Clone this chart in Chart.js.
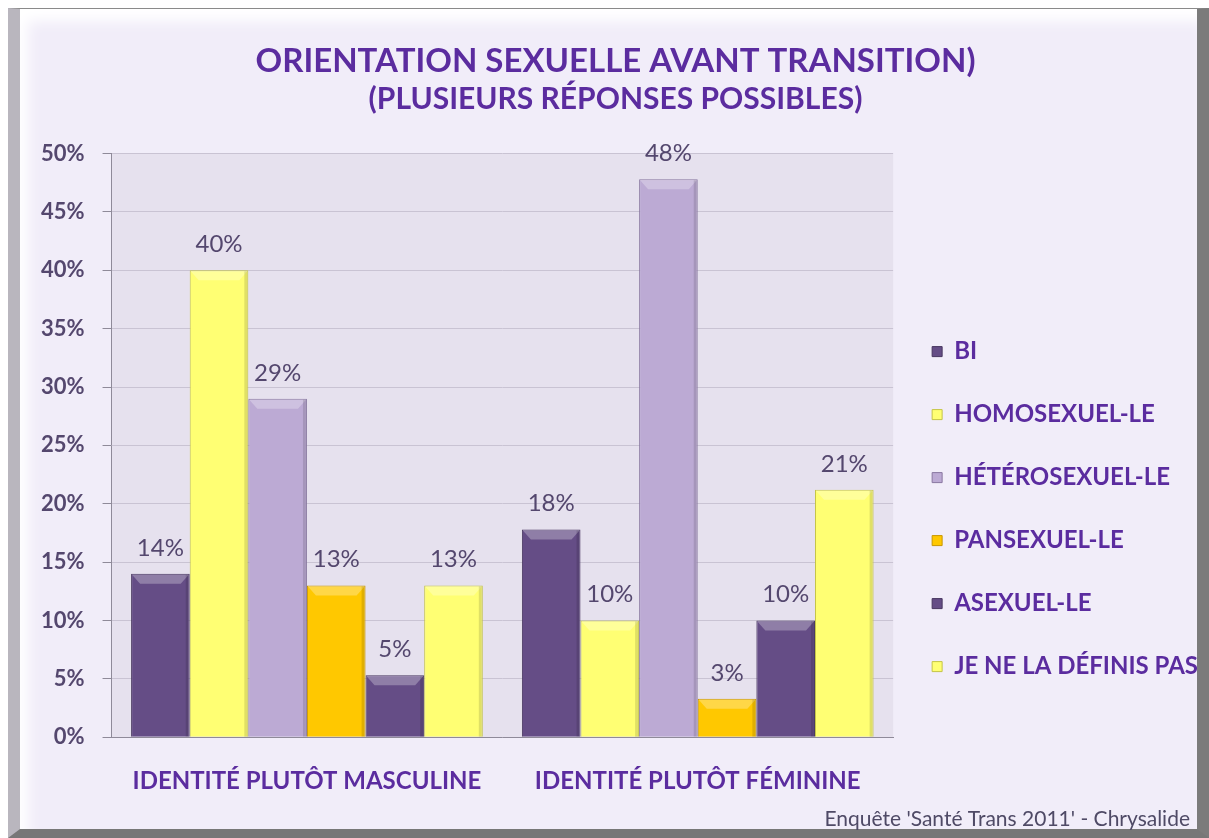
<!DOCTYPE html>
<html>
<head>
<meta charset="utf-8">
<script src="https://cdn.jsdelivr.net/npm/chart.js@4.4.0/dist/chart.umd.min.js"></script>
<style>
  html, body { margin: 0; padding: 0; background: #ffffff; }
  #frame {
    position: absolute; left: 8px; top: 8px; width: 1201px; height: 830px;
    box-sizing: border-box; background: #f1edf9;
    border-top: 1px solid #8a8a8a; border-left: 12px solid #b9b6be;
    border-right: 12px solid #7b7b7b; border-bottom: 9px solid #777777;
    box-shadow: inset 8px 12px 14px #ffffff;
  }
  #myChart { position: absolute; left: 0; top: 0; }
</style>
</head>
<body>
<div id="frame"></div>
<canvas id="myChart" width="1209" height="838"></canvas>
<script>
/* les données */
var identites = ['IDENTITÉ PLUTÔT MASCULINE', 'IDENTITÉ PLUTÔT FÉMININE'];
var orientations = ['BI', 'HOMOSEXUEL-LE', 'HÉTÉROSEXUEL-LE', 'PANSEXUEL-LE', 'ASEXUEL-LE', 'JE NE LA DÉFINIS PAS'];
var masculine = [14, 40, 29, 13, 5.3, 13];
var feminine = [17.8, 10, 47.8, 3.3, 10, 21.2];
var yTicks = [0, 5, 10, 15, 20, 25, 30, 35, 40, 45, 50];

var couleurs = ['#654d86', '#ffff73', '#bcaad4', '#ffc800', '#654d86', '#ffff73'];
var bordures = ['#47365f', '#c4c447', '#8877a0', '#c79600', '#47365f', '#c4c447'];

var violet = '#5b2c9f';
var gris = '#54476e';

/* fond de la zone du graphique */
var fondZone = {
    id: 'fondZone',
    beforeDraw: function(chart) {
        var a = chart.chartArea;
        chart.ctx.save();
        chart.ctx.fillStyle = '#e6e1ee';
        chart.ctx.fillRect(a.left, a.top, a.right - a.left, a.bottom - a.top);
        chart.ctx.restore();
    }
};

/* petit effet de biseau en haut des barres + les pourcentages */
var etiquettes = {
    id: 'etiquettes',
    afterDatasetsDraw: function(chart) {
        var ctx = chart.ctx;
        ctx.save();
        chart.data.datasets.forEach(function(ds, i) {
            chart.getDatasetMeta(i).data.forEach(function(bar) {
                var l = bar.x - bar.width / 2, r = bar.x + bar.width / 2;
                ctx.fillStyle = 'rgba(255,255,255,0.28)';
                ctx.beginPath();
                ctx.moveTo(l + 1, bar.y + 1);
                ctx.lineTo(r - 1, bar.y + 1);
                ctx.lineTo(r - 9, bar.y + 10);
                ctx.lineTo(l + 9, bar.y + 10);
                ctx.closePath();
                ctx.fill();
                ctx.fillStyle = 'rgba(0,0,0,0.12)';
                ctx.fillRect(r - 4, bar.y + 1, 3, bar.base - bar.y - 1);
            });
        });
        ctx.font = '24px Lato';
        ctx.fillStyle = gris;
        ctx.textAlign = 'center';
        ctx.textBaseline = 'alphabetic';
        chart.data.datasets.forEach(function(ds, i) {
            chart.getDatasetMeta(i).data.forEach(function(bar, j) {
                ctx.fillText(Math.round(ds.data[j]) + '%', bar.x, bar.y - 18);
            });
        });
        ctx.restore();
    }
};

/* la source en bas */
var source = {
    id: 'source',
    afterDraw: function(chart) {
        var ctx = chart.ctx;
        ctx.save();
        ctx.font = '21px Lato';
        ctx.fillStyle = '#4f4a66';
        ctx.textAlign = 'right';
        ctx.fillText("Enquête 'Santé Trans 2011' - Chrysalide", 1190, 826);
        ctx.restore();
    }
};

var datasets = orientations.map(function(nom, i) {
    return {
        label: nom,
        data: [masculine[i], feminine[i]],
        backgroundColor: couleurs[i],
        borderColor: bordures[i],
        borderWidth: 1
    };
});

var ctx = document.getElementById('myChart');

var myChart = new Chart(ctx, {
    type: 'bar',
    data: {
        labels: identites,
        datasets: datasets
    },
    options: {
        responsive: false,
        animation: false,
        devicePixelRatio: 1,
        layout: { padding: { top: 0, left: 23, right: 1, bottom: 12 } },
        datasets: { bar: { categoryPercentage: 0.9, barPercentage: 1 } },
        scales: {
            x: {
                grid: { display: false, drawTicks: false },
                border: { display: true, color: '#8f8a99' },
                ticks: {
                    color: violet,
                    padding: 30,
                    font: { family: 'Lato', size: 24, weight: 'bold' }
                }
            },
            y: {
                min: 0,
                max: 50,
                afterBuildTicks: function(axis) {
                    axis.ticks = yTicks.map(function(v) { return { value: v }; });
                },
                grid: { color: '#c9c3d3', tickLength: 9, tickColor: '#8f8a99' },
                border: { display: true, color: '#8f8a99' },
                ticks: {
                    color: gris,
                    padding: 18,
                    font: { family: 'Lato', size: 22, weight: 'bold' },
                    callback: function(v) { return v + '%'; }
                }
            }
        },
        plugins: {
            title: {
                display: true,
                text: 'ORIENTATION SEXUELLE AVANT TRANSITION)',
                color: violet,
                font: { family: 'Lato', size: 33, weight: 'bold' },
                padding: { top: 42, bottom: 0 }
            },
            subtitle: {
                display: true,
                text: '(PLUSIEURS RÉPONSES POSSIBLES)',
                color: violet,
                font: { family: 'Lato', size: 30, weight: 'bold' },
                padding: { top: 0, bottom: 36 }
            },
            legend: {
                position: 'right',
                align: 'start',
                fullSize: false,
                maxWidth: 330,
                title: { display: true, text: '', font: { size: 1, lineHeight: 1 }, padding: { top: 146, bottom: 0 } },
                labels: {
                    boxWidth: 10,
                    boxHeight: 10,
                    padding: 39,
                    color: violet,
                    font: { family: 'Lato', size: 24, weight: 'bold' }
                }
            },
            tooltip: { enabled: false }
        }
    },
    plugins: [fondZone, etiquettes, source]
});
</script>
</body>
</html>
